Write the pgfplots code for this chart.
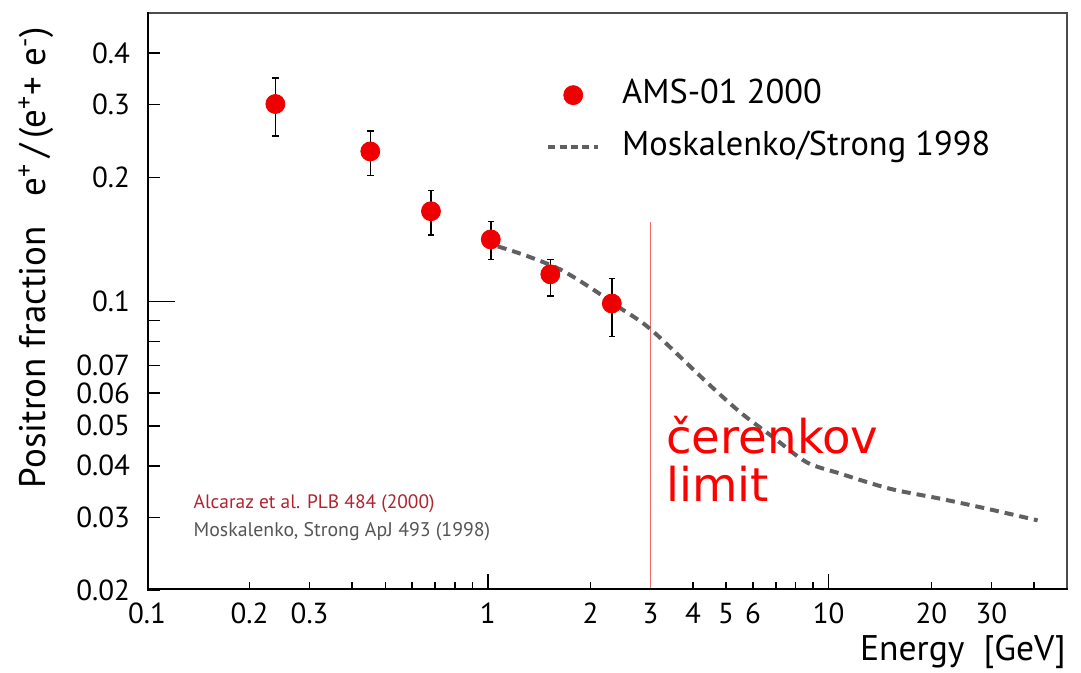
\documentclass[border=0pt]{standalone}
\usepackage{fontspec}
\setmainfont{PT Sans}
\newfontfamily\dejavu{DejaVu Sans}
\usepackage{pgfplots}
\pgfplotsset{compat=1.18}
\definecolor{datared}{HTML}{EE0000}
\definecolor{curvegray}{HTML}{606060}
\definecolor{limitred}{HTML}{F06A6A}
\definecolor{citered}{HTML}{B0232F}
\definecolor{citegray}{HTML}{555555}
\begin{document}
\begin{tikzpicture}
% x tick lines
\begin{axis}[scale only axis, width=460pt, height=288.5pt,
  xmode=log, ymode=log, xmin=0.1, xmax=50, ymin=0.02, ymax=0.5,
  axis line style={draw=none}, xtick pos=bottom, ytick pos=left, tick align=inside,
  tick style={black, line width=0.75pt}, hide y axis,
  xtick={1,10}, minor xtick={0.2,0.3,0.4,0.5,0.6,0.7,0.8,0.9,2,3,4,5,6,7,8,9,20,30,40},
  xticklabels={}, major tick length=8pt, minor tick length=4pt]
\addplot[draw=none] coordinates {(1,0.1)};
\end{axis}
% y tick lines
\begin{axis}[scale only axis, width=460pt, height=288.5pt,
  xmode=log, ymode=log, xmin=0.1, xmax=50, ymin=0.02, ymax=0.5,
  axis line style={draw=none}, xtick pos=bottom, ytick pos=left, tick align=inside,
  tick style={black, line width=0.75pt}, hide x axis,
  ytick={0.1}, minor ytick={0.02,0.03,0.04,0.05,0.06,0.07,0.08,0.09,0.2,0.3,0.4},
  yticklabels={}, major tick length=14pt, minor tick length=6.5pt]
\addplot[draw=none] coordinates {(1,0.1)};
\end{axis}
% main axis
\begin{axis}[scale only axis, width=460pt, height=288.5pt,
  xmode=log, ymode=log, xmin=0.1, xmax=50, ymin=0.02, ymax=0.5,
  axis line style={draw=none},
  xtick pos=bottom, ytick pos=left, tick align=inside,
  name=ax, clip=false,
  xtick={0.1,0.2,0.3,1,2,3,4,5,6,10,20,30},
  xticklabels={0.1,0.2,0.3,1,2,3,4,5,6,10,20,30},
  ytick={0.02,0.03,0.04,0.05,0.06,0.07,0.1,0.2,0.3,0.4},
  yticklabels={0.02,0.03,0.04,0.05,0.06,0.07,0.1,0.2,0.3,0.4},
  tick style={draw=none}, xminorticks=false, yminorticks=false,
  /pgf/number format/assume math mode=true,
  ticklabel style={font=\fontsize{14.5}{16}\selectfont},
  yticklabel style={xshift=-5pt},
  xticklabel style={yshift=-3pt},
  xlabel={Energy\ \ [GeV]},
  xlabel style={at={(rel axis cs:1,0)}, anchor=base east, inner sep=0.5pt, yshift=-35pt, font=\fontsize{17.8}{20}\selectfont},
  ylabel={Positron fraction\ \ \ e\textsuperscript{+}\,/\,(e\textsuperscript{+}+ e\textsuperscript{-})},
  ylabel style={at={(rel axis cs:-0.1207,0.576)}, anchor=center, font=\fontsize{18.5}{20}\selectfont},
  legend cell align=left,
  legend style={at={(rel axis cs:0.427,0.893)}, anchor=north west, draw=none, fill=none,
    font=\fontsize{17.2}{20}\selectfont, row sep=10pt, column sep=11pt,
    nodes={inner sep=0pt, text height=12pt, text depth=4pt}},
  reverse legend,
]
\addplot[limitred, line width=0.8pt, forget plot] coordinates {(3,0.156) (3,0.02)};
\addplot[curvegray, line width=2pt, dash pattern=on 4.5pt off 3pt, smooth, tension=0.5,
  legend image code/.code={\draw[curvegray, line width=2pt, dash pattern=on 3.5pt off 2.2pt] (0pt,0pt) -- (25pt,0pt);}]
  coordinates {(1.07,0.136) (1.3,0.129) (1.63,0.1196) (2.0,0.108) (2.39,0.0976) (3.0,0.0857)
  (4.39,0.0637) (5.5,0.0539) (6.87,0.0469) (8.61,0.0408) (10.8,0.0383) (15.1,0.0352)
  (21.2,0.0333) (29.0,0.0315) (41,0.0295)};
\addlegendentry{Moskalenko/Strong 1998}
\addplot[only marks, mark=*, mark size=4.75pt, mark options={fill=datared, draw=datared},
  legend image code/.code={\draw[datared, fill=datared, mark=*, mark size=4.75pt] plot coordinates {(12.5pt,0pt)};},
  error bars/.cd, y dir=both, y explicit,
  error bar style={black, line width=0.7pt},
  error mark options={black, rotate=90, mark size=1.6pt, line width=0.7pt}]
  coordinates {
  (0.238,0.301) += (0,0.047) -= (0,0.049)
  (0.452,0.231) += (0,0.028) -= (0,0.029)
  (0.681,0.1655) += (0,0.020) -= (0,0.0207)
  (1.02,0.1414) += (0,0.0151) -= (0,0.0149)
  (1.525,0.1164) += (0,0.0101) -= (0,0.0133)
  (2.31,0.0989) += (0,0.0149) -= (0,0.0166)
  };
\addlegendentry{AMS-01 2000}
\node[anchor=base west, inner sep=0pt, text=citered, font=\fontsize{9.7}{12}\selectfont] at (axis cs:0.1367,0.0315) {Alcaraz et al. PLB 484 (2000)};
\node[anchor=base west, inner sep=0pt, text=citegray, font=\fontsize{9.9}{12}\selectfont] at (axis cs:0.1367,0.0270) {Moskalenko, Strong ApJ 493 (1998)};
\node[anchor=base west, inner sep=0pt, text=red, font=\dejavu\fontsize{23.3}{27}\selectfont] at (axis cs:3.33,0.0428) {čerenkov};
\node[anchor=base west, inner sep=0pt, text=red, font=\dejavu\fontsize{23.3}{27}\selectfont] at (axis cs:3.33,0.0328) {limit};
\end{axis}
\draw[black!70, line width=0.8pt] (ax.north west) -- (ax.north east) -- (ax.south east);
\draw[black, line width=1.4pt, line cap=rect]
  ([xshift=0.5pt]ax.north west) -- ([xshift=0.5pt,yshift=0.5pt]ax.south west) -- ([yshift=0.5pt]ax.south east);
\pgfresetboundingbox
\path[use as bounding box] ([xshift=-73.5pt,yshift=-41pt]ax.south west) rectangle ([xshift=7pt,yshift=6.5pt]ax.north east);
\end{tikzpicture}
\end{document}
